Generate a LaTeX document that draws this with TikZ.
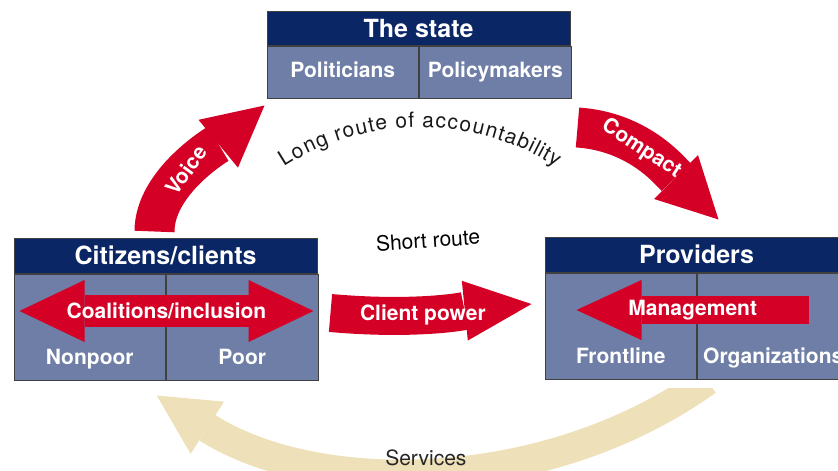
\documentclass[tikz,border=0pt]{standalone}
\usepackage{fontspec}
\setmainfont{TeX Gyre Heros}
\usepackage{tikz}
\definecolor{navy}{RGB}{10,38,100}
\definecolor{slate}{RGB}{110,126,166}
\definecolor{alertred}{RGB}{213,0,38}
\definecolor{sand}{RGB}{238,225,185}
\newcommand{\headfont}{\fontsize{25}{28}\selectfont\bfseries}
\newcommand{\cellfont}{\fontsize{21}{24}\selectfont\bfseries}
\newcommand{\routefont}{\fontsize{21}{25}\selectfont}
\tikzstyle{head} = [rectangle, fill=navy, draw=black!75, line width=1pt, minimum width=303pt, minimum height=35pt, text=white, font=\headfont, inner sep=0pt]
\tikzstyle{cell} = [rectangle, fill=slate, draw=black!75, line width=1pt, minimum width=151.5pt, anchor=north west, text=white, font=\cellfont, text height=15pt, text depth=4pt, inner sep=0pt]
\tikzstyle{celltext} = [text=white, font=\cellfont, text height=15pt, text depth=4pt, inner sep=0pt]
\tikzstyle{arrowtext} = [text=white, font=\cellfont, inner sep=0pt]
\tikzstyle{redarrow} = [draw=alertred, line width=40pt, -{Triangle[length=60pt, width=62pt, line width=0pt]}]
\tikzstyle{twoway} = [draw=alertred, line width=32pt, {Triangle[length=65pt, width=62pt, line width=0pt]}-{Triangle[length=65pt, width=62pt, line width=0pt]}]
\usetikzlibrary{arrows.meta, positioning, decorations.text}

\begin{document}
\begin{tikzpicture}[x=1pt, y=-1pt]
          \useasboundingbox (0,0) rectangle (838,471);

          % the state
          \node[head, minimum height=34pt] (state) at (418.5,28) {The state};
          \node[cell, minimum height=52pt] (politicians) at (state.south west) {Politicians};
          \node[cell, minimum height=52pt] (policymakers) at (politicians.north east) {Policymakers};

          % citizens
          \node[head] (citizens) at (165.5,255.5) {Citizens/clients};
          \node[cell, minimum height=106pt] (nonpoor) at (citizens.south west) {};
          \node[cell, minimum height=106pt] (poor) at (nonpoor.north east) {};
          \node[celltext] (nonpoortext) at ([yshift=22pt]nonpoor.south) {Nonpoor};
          \node[celltext] (poortext) at ([yshift=22pt]poor.south) {Poor};

          % providers
          \node[head] (providers) at (696.5,254.5) {Providers};
          \node[cell, minimum height=106pt] (frontline) at (providers.south west) {};
          \node[cell, minimum height=106pt] (organizations) at (frontline.north east) {};
          \node[celltext] (frontlinetext) at ([yshift=22pt]frontline.south) {Frontline};
          \node[celltext] (organizationstext) at ([yshift=22pt]organizations.south) {Organizations};

          \path[decorate, decoration={text effects along path, text={Long route of accountability}, text effects/.cd, text along path, fit text to path, characters={font=\routefont, text=black!90, inner sep=0pt}}] (284,167) .. controls (366,114) and (474,114) .. (556,167);
          \node[font=\routefont, rotate=4] (shortroute) at (428,240) {Short route};

          \draw[redarrow]([xshift=-11pt,yshift=6pt]citizens.north) .. controls +(0,-50) and +(-46,38) .. node[pos=0.45, rotate=54, arrowtext]{Voice} ([xshift=-2pt,yshift=-7pt]politicians.south west);
          \draw[redarrow]([xshift=6pt,yshift=-29pt]policymakers.south east) .. controls +(60,4) and +(-50,-50) .. node[pos=0.42, sloped, arrowtext]{Compact} ([xshift=22pt,yshift=17pt]providers.north);
          \draw[redarrow, line width=38pt, -{Triangle[length=67pt, width=60pt, line width=0pt]}]([xshift=12pt,yshift=14pt]poor.east) .. controls +(90,8) and +(-60,6) .. node[pos=0.4, arrowtext]{Client power} ([xshift=-13pt,yshift=22pt]frontline.west);
          \draw[twoway]([xshift=6pt,yshift=16pt]nonpoor.west) -- node[arrowtext]{Coalitions/inclusion} ([xshift=-5pt,yshift=16pt]poor.east);
          \draw[redarrow, line width=28pt, -{Triangle[length=65pt, width=60pt, line width=0pt]}]([xshift=112pt,yshift=16pt]organizations.west) -- node[arrowtext]{Management} ([xshift=32pt,yshift=16pt]frontline.west);
          \begin{scope}
            \clip (0,388) rectangle (838,480);
            \draw[draw=sand, line width=30pt, -{Triangle[length=60pt, width=62pt, line width=0pt]}]([xshift=10pt,yshift=-1pt]frontline.south east) .. controls +(-160,115) and +(160,102) .. node[pos=0.5, xshift=-6pt, yshift=12pt, font=\routefont, text=black!85]{Services} ([xshift=67pt,yshift=-15pt]nonpoor.south);
          \end{scope}
        \end{tikzpicture}
\end{document}
